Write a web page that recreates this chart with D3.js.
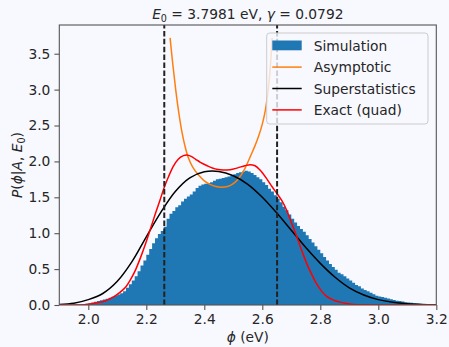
<!DOCTYPE html>
<html>
<head>
<meta charset="utf-8">
<script src="https://cdn.jsdelivr.net/npm/d3@7"></script>
<style>
  body { margin: 0; background: #f8f8ff; }
  svg { display: block; font-family: "DejaVu Sans", sans-serif; }
</style>
</head>
<body>
<div id="chart"></div>
<script>
// histogram of the simulation, bins of 0.01 eV starting at 1.95
var binStart = 1.95;
var binWidth = 0.01;
var simDensity = [
  0.003, 0.005, 0.008, 0.012, 0.018, 0.025, 0.035, 0.045, 0.055, 0.065,
  0.075, 0.088, 0.10, 0.115, 0.13, 0.145, 0.165, 0.19, 0.24, 0.29,
  0.34, 0.40, 0.47, 0.55, 0.62, 0.70, 0.78, 0.86, 0.93, 0.99,
  1.03, 1.09, 1.20, 1.27, 1.31, 1.36, 1.39, 1.44, 1.48, 1.51,
  1.54, 1.58, 1.63, 1.66, 1.68, 1.69, 1.70, 1.71, 1.73, 1.75,
  1.76, 1.77, 1.78, 1.79, 1.80, 1.82, 1.84, 1.85, 1.86, 1.87,
  1.86, 1.84, 1.81, 1.78, 1.75, 1.71, 1.67, 1.62, 1.58, 1.53,
  1.48, 1.43, 1.37, 1.32, 1.26, 1.20, 1.15, 1.10, 1.06, 1.02,
  0.97, 0.92, 0.87, 0.82, 0.77, 0.72, 0.67, 0.62, 0.57, 0.53,
  0.49, 0.45, 0.43, 0.40, 0.37, 0.34, 0.31, 0.28, 0.26, 0.23,
  0.21, 0.19, 0.17, 0.15, 0.13, 0.12, 0.11, 0.10, 0.09, 0.08,
  0.07, 0.06, 0.055, 0.05, 0.04, 0.035, 0.03, 0.025, 0.02, 0.018,
  0.015, 0.012, 0.01, 0.008, 0.005
];

var asymptotic = [
  [2.282, 3.72], [2.292, 3.33], [2.302, 2.98], [2.312, 2.68], [2.322, 2.43],
  [2.333, 2.22], [2.345, 2.05], [2.360, 1.92], [2.380, 1.81], [2.400, 1.73],
  [2.420, 1.68], [2.440, 1.65], [2.460, 1.64], [2.480, 1.65], [2.500, 1.69],
  [2.520, 1.77], [2.540, 1.90], [2.560, 2.08], [2.575, 2.22], [2.588, 2.36],
  [2.600, 2.52], [2.610, 2.70], [2.618, 2.92], [2.625, 3.18], [2.630, 3.45],
  [2.634, 3.72]
];

var superstat = [
  [1.90, 0.008], [1.95, 0.025], [2.00, 0.075], [2.05, 0.16], [2.10, 0.33],
  [2.15, 0.60], [2.20, 0.95], [2.25, 1.29], [2.30, 1.58], [2.35, 1.77],
  [2.40, 1.855], [2.45, 1.86], [2.50, 1.80], [2.55, 1.68], [2.60, 1.50],
  [2.65, 1.28], [2.70, 1.04], [2.75, 0.80], [2.80, 0.58], [2.85, 0.39],
  [2.90, 0.24], [2.95, 0.14], [3.00, 0.075], [3.05, 0.038], [3.10, 0.018],
  [3.15, 0.008], [3.20, 0.003]
];

var exact = [
  [1.90, 0.0], [1.98, 0.0], [2.0, 0.01], [2.03, 0.03], [2.06, 0.06],
  [2.09, 0.12], [2.11, 0.18], [2.129, 0.25], [2.145, 0.35], [2.163, 0.49],
  [2.18, 0.66], [2.198, 0.86], [2.215, 1.07], [2.232, 1.28], [2.248, 1.47],
  [2.262, 1.64], [2.278, 1.80], [2.293, 1.93], [2.31, 2.03], [2.328, 2.08],
  [2.339, 2.09], [2.355, 2.07], [2.37, 2.03], [2.385, 1.99], [2.41, 1.94],
  [2.443, 1.89], [2.466, 1.88], [2.489, 1.885], [2.515, 1.91], [2.54, 1.94],
  [2.558, 1.955], [2.575, 1.94], [2.592, 1.88], [2.615, 1.76], [2.635, 1.64],
  [2.651, 1.55], [2.668, 1.45], [2.684, 1.32], [2.70, 1.15], [2.719, 0.95],
  [2.736, 0.76], [2.753, 0.58], [2.77, 0.43], [2.788, 0.29], [2.805, 0.19],
  [2.822, 0.12], [2.845, 0.07], [2.868, 0.04], [2.89, 0.02], [2.914, 0.008],
  [2.95, 0.002], [3.0, 0.0], [3.2, 0.0]
];

// dashed markers (eV)
var markers = [2.262, 2.651];

var xTicks = [2.0, 2.2, 2.4, 2.6, 2.8, 3.0, 3.2];
var yTicks = [0.0, 0.5, 1.0, 1.5, 2.0, 2.5, 3.0, 3.5];

var legendItems = [
  {label: "Simulation", color: "#1f77b4", type: "patch"},
  {label: "Asymptotic", color: "#ff7f0e", type: "line"},
  {label: "Superstatistics", color: "#000000", type: "line"},
  {label: "Exact (quad)", color: "#ff0000", type: "line"}
];

var W = 449, H = 347;
var margin = {top: 25, right: 12.7, bottom: 42, left: 59.3};
var textColor = "#262626";
var spineColor = "#555555";
var bg = "#f8f8ff";
var fontSize = "13.8px";

var svg = d3.select("#chart").append("svg")
    .attr("width", W)
    .attr("height", H)
    .style("background", bg);

var x = d3.scaleLinear()
    .domain([1.9, 3.2])
    .range([margin.left, W - margin.right]);

var y = d3.scaleLinear()
    .domain([0, 3.9])
    .range([H - margin.bottom, margin.top]);

svg.append("defs").append("clipPath")
    .attr("id", "plotClip")
  .append("rect")
    .attr("x", x.range()[0])
    .attr("y", y.range()[1])
    .attr("width", x.range()[1] - x.range()[0])
    .attr("height", y.range()[0] - y.range()[1]);

var plot = svg.append("g").attr("clip-path", "url(#plotClip)");

// histogram as step area
var bins = simDensity.map(function (v, i) {
    return {x0: binStart + i * binWidth, v: v};
});
bins.push({x0: binStart + simDensity.length * binWidth, v: simDensity[simDensity.length - 1]});

plot.append("path")
    .datum(bins)
    .attr("fill", "#1f77b4")
    .attr("d", d3.area()
        .curve(d3.curveStepAfter)
        .x(function (d) { return x(d.x0); })
        .y0(y(0))
        .y1(function (d) { return y(d.v); }));

var line = d3.line()
    .curve(d3.curveCatmullRom.alpha(0.5))
    .x(function (d) { return x(d[0]); })
    .y(function (d) { return y(d[1]); });

plot.append("path").datum(asymptotic)
    .attr("fill", "none").attr("stroke", "#ff7f0e").attr("stroke-width", 1.5)
    .attr("d", line);

plot.append("path").datum(superstat)
    .attr("fill", "none").attr("stroke", "#000000").attr("stroke-width", 1.5)
    .attr("d", line);

plot.append("path").datum(exact)
    .attr("fill", "none").attr("stroke", "#ff0000").attr("stroke-width", 1.5)
    .attr("d", line.curve(d3.curveMonotoneX));

// vertical dashed lines
plot.selectAll(".marker")
    .data(markers)
    .enter().append("line")
    .attr("class", "marker")
    .attr("x1", function (d) { return x(d); })
    .attr("x2", function (d) { return x(d); })
    .attr("y1", y.range()[0])
    .attr("y2", y.range()[1])
    .attr("stroke", "#222")
    .attr("stroke-width", 2)
    .attr("stroke-dasharray", "5.5,2.4");

// axes
var xAxis = d3.axisBottom(x).tickValues(xTicks).tickFormat(d3.format(".1f")).tickSize(4.9).tickPadding(4);
var yAxis = d3.axisLeft(y).tickValues(yTicks).tickFormat(d3.format(".1f")).tickSize(4.9).tickPadding(4);

var gx = svg.append("g")
    .attr("transform", "translate(0," + y.range()[0] + ")")
    .call(xAxis);
var gy = svg.append("g")
    .attr("transform", "translate(" + x.range()[0] + ",0)")
    .call(yAxis);

[gx, gy].forEach(function (g) {
    g.select(".domain").remove();
    g.selectAll(".tick line").attr("stroke", spineColor).attr("stroke-width", 1.1);
    g.selectAll(".tick text")
        .attr("fill", textColor)
        .style("font-size", fontSize)
        .style("font-family", "'DejaVu Sans', sans-serif");
});

// spines
svg.append("rect")
    .attr("x", x.range()[0])
    .attr("y", y.range()[1])
    .attr("width", x.range()[1] - x.range()[0])
    .attr("height", y.range()[0] - y.range()[1])
    .attr("fill", "none")
    .attr("stroke", spineColor)
    .attr("stroke-width", 1.1);

// title
var title = svg.append("text")
    .attr("x", (x.range()[0] + x.range()[1]) / 2)
    .attr("y", 19)
    .attr("text-anchor", "middle")
    .attr("fill", textColor)
    .style("font-size", fontSize);
title.append("tspan").style("font-style", "italic").text("E");
title.append("tspan").attr("dy", 3).style("font-size", "9.6px").text("0");
title.append("tspan").attr("dy", -3).text(" = 3.7981 eV, ");
title.append("tspan").style("font-style", "italic").text("γ");
title.append("tspan").text(" = 0.0792");

// x label
var xl = svg.append("text")
    .attr("x", (x.range()[0] + x.range()[1]) / 2)
    .attr("y", 342)
    .attr("text-anchor", "middle")
    .attr("fill", textColor)
    .style("font-size", fontSize);
xl.append("tspan").style("font-style", "italic").text("ϕ");
xl.append("tspan").text(" (eV)");

// y label
var yl = svg.append("text")
    .attr("transform", "translate(22," + ((y.range()[0] + y.range()[1]) / 2) + ") rotate(-90)")
    .attr("text-anchor", "middle")
    .attr("fill", textColor)
    .style("font-size", fontSize);
yl.append("tspan").style("font-style", "italic").text("P");
yl.append("tspan").text("(");
yl.append("tspan").style("font-style", "italic").text("ϕ");
yl.append("tspan").text("|");
yl.append("tspan").style("font-style", "italic").text("A");
yl.append("tspan").text(", ");
yl.append("tspan").style("font-style", "italic").text("E");
yl.append("tspan").attr("dy", 3).style("font-size", "9.6px").text("0");
yl.append("tspan").attr("dy", -3).text(")");

// legend
var legend = svg.append("g").attr("transform", "translate(266.7,33)");
legend.append("rect")
    .attr("width", 161.3)
    .attr("height", 91)
    .attr("rx", 3)
    .attr("fill", bg)
    .attr("fill-opacity", 0.8)
    .attr("stroke", "#cccccc")
    .attr("stroke-width", 1);

var rows = legend.selectAll(".row")
    .data(legendItems)
    .enter().append("g")
    .attr("transform", function (d, i) { return "translate(0," + (12.7 + i * 21.4) + ")"; });

rows.filter(function (d) { return d.type === "patch"; })
    .append("rect")
    .attr("x", 5.6).attr("y", -5.2)
    .attr("width", 29.4).attr("height", 9.8)
    .attr("fill", function (d) { return d.color; });

rows.filter(function (d) { return d.type === "line"; })
    .append("line")
    .attr("x1", 5.6).attr("x2", 35)
    .attr("stroke", function (d) { return d.color; })
    .attr("stroke-width", 1.5);

rows.append("text")
    .attr("x", 47)
    .attr("y", 5)
    .attr("fill", textColor)
    .style("font-size", fontSize)
    .text(function (d) { return d.label; });
</script>
</body>
</html>
